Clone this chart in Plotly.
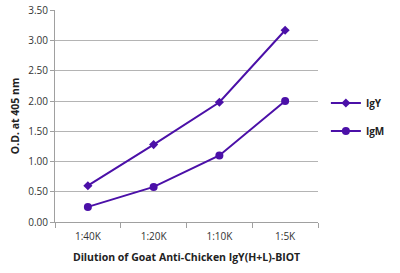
import plotly.graph_objects as go

categories = ["1:40K", "1:20K", "1:10K", "1:5K"]
igy = [0.60, 1.28, 1.98, 3.17]
igm = [0.25, 0.58, 1.10, 2.00]
y_ticks = [0, 0.5, 1.0, 1.5, 2.0, 2.5, 3.0, 3.5]

color = "#4B10A8"
fig = go.Figure()
fig.add_trace(go.Scatter(x=categories, y=igy, name="IgY", mode="lines+markers",
                         legendgroup="a",
                         line=dict(color=color, width=2),
                         marker=dict(symbol="diamond", size=7, color=color)))
fig.add_trace(go.Scatter(x=categories, y=igm, name="IgM", mode="lines+markers",
                         legendgroup="b",
                         line=dict(color=color, width=2),
                         marker=dict(symbol="circle", size=8, color=color)))

fig.update_layout(
    width=400, height=273,
    margin=dict(l=55, r=58, t=10, b=51),
    paper_bgcolor="white", plot_bgcolor="white",
    font=dict(family="Open Sans", size=10, color="#333333"),
    showlegend=True,
    legend=dict(x=1.03, y=0.63, xanchor="left", yanchor="top",
                font=dict(family="Open Sans", size=10, color="#222222", weight="bold"),
                tracegroupgap=9, itemwidth=30, bgcolor="rgba(0,0,0,0)"),
    xaxis=dict(type="category", showgrid=False, showline=True, linecolor="#A0A0A0",
               ticks="outside", tickson="boundaries", ticklen=5, tickcolor="#A0A0A0",
               ticklabelstandoff=5, automargin=False,
               range=[-0.5, 3.5],
               title=dict(text="<b>Dilution of Goat Anti-Chicken IgY(H+L)-BIOT</b>",
                          font=dict(size=10.5, color="#222222"), standoff=11)),
    yaxis=dict(range=[0, 3.505], tickvals=y_ticks, tickformat=".2f", showgrid=True,
               gridcolor="#B4B4B4", gridwidth=1, showline=True, linecolor="#A0A0A0",
               ticks="outside", ticklen=4, tickcolor="#A0A0A0", zeroline=False,
               automargin=False,
               title=dict(text="<b>O.D. at 405 nm</b>", font=dict(size=10.5, color="#222222"),
                          standoff=6)),
)

fig.write_html("out.html")
